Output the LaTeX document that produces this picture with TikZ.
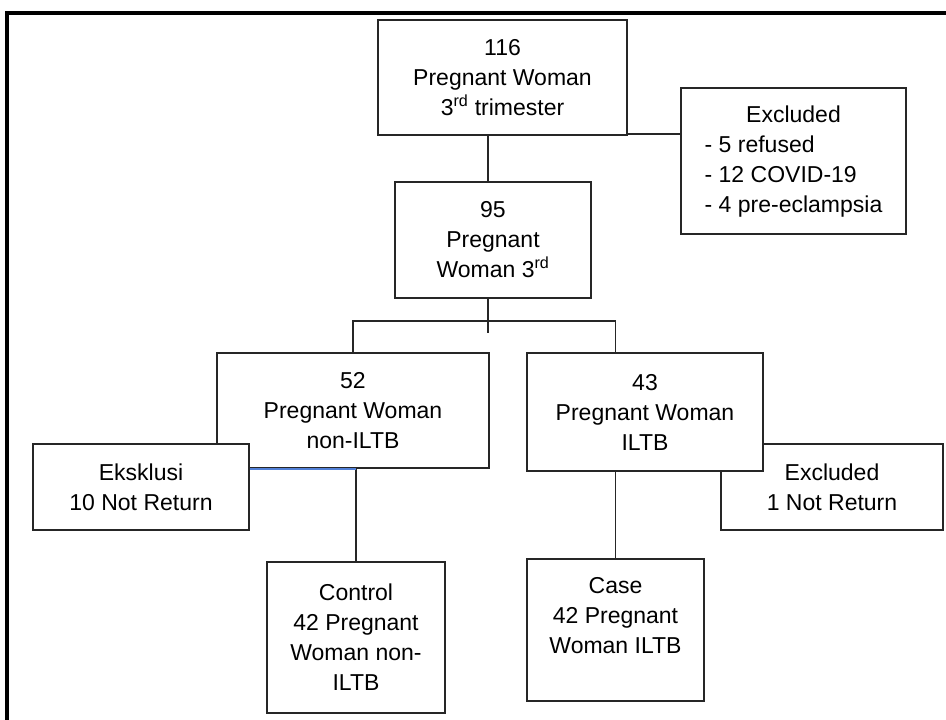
\documentclass[tikz,border=0pt]{standalone}
\usepackage{fontspec}
\setmainfont{Liberation Sans}
\usetikzlibrary{positioning}
\definecolor{linkblue}{RGB}{82,128,215}
\tikzset{
  box/.style={draw=black!85, line width=1.5pt, fill=white, align=center, inner sep=0pt, font=\fontsize{23}{30}\selectfont},
  lnk/.style={draw=black!85, line width=1.5pt},
  pageframe/.style={draw=black, line width=3.5pt}
}
\begin{document}
\begin{tikzpicture}[x=1pt, y=-1pt]
\useasboundingbox (0,0) rectangle (946,720);
\draw[pageframe] (7,722) -- (7,13) -- (948,13);
\node[box, minimum width=249pt, minimum height=115pt] (n116) at (502.5,77.5) {116\\Pregnant Woman\\3\textsuperscript{rd} trimester};
\node[box, minimum width=225pt, minimum height=146pt] (excl) at (793.5,161) {\begin{tabular}{@{}l@{}}\multicolumn{1}{@{}c@{}}{Excluded}\\- 5 refused\\- 12 COVID-19\\- 4 pre-eclampsia\end{tabular}};
\node[box, minimum width=196pt, minimum height=116pt] (n95) at (493,240) {95\\Pregnant\\Woman 3\textsuperscript{rd}};
\coordinate (split) at (488,321);
\coordinate (tail) at (488,333);
\draw[lnk] (n116.south -| split) -- (n95.north -| split);
\draw[lnk] (n95.south -| split) -- (tail);
\draw[lnk] ([yshift=2pt]n116.south east) -- ([yshift=2pt]n116.south east -| excl.west);
\node[box, minimum width=272pt, minimum height=115pt] (n52) at (353,410.5) {52\\Pregnant Woman\\non-ILTB};
\node[box, minimum width=222pt, minimum height=86pt] (excl2) at (832,487) {Excluded\\1 Not Return};
\node[box, minimum width=236pt, minimum height=118pt] (n43) at (645,412) {43\\Pregnant Woman\\ILTB};
\node[box, minimum width=216pt, minimum height=86pt] (eks) at (141,487) {Eksklusi\\10 Not Return};
\node[box, minimum width=178pt, minimum height=151pt] (ctrl) at (356,637.5) {Control\\42 Pregnant\\Woman non-\\ILTB};
\node[box, minimum width=177pt, minimum height=142pt] (case) at (615.5,630) {Case\\42 Pregnant\\Woman ILTB\\\mbox{}};
\draw[lnk] (n52.north) |- (split) -| (n43.north -| case.north);
\draw[lnk] (n43.south -| case.north) -- (case.north);
\draw[lnk] (n52.south -| ctrl.north) -- (ctrl.north);
\draw[lnk, draw=linkblue] (eks.east |- n52.south) -- (n52.south -| ctrl.north);
\end{tikzpicture}
\end{document}
